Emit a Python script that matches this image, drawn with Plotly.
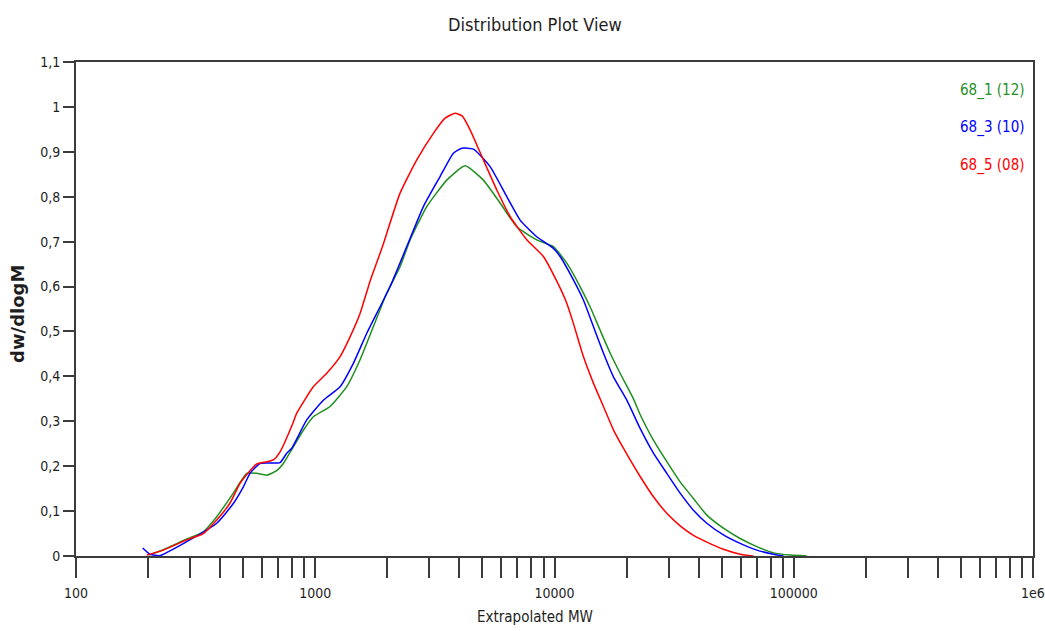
import plotly.graph_objects as go

# ---- data: dw/dlogM versus extrapolated molecular weight ----
mw_68_1 = [200.6, 231.7, 290.3, 340.6, 387.5, 454.6, 517.2, 569.4, 626.9, 690.2,
           735.7, 809.7, 891.8, 981.9, 1153, 1354, 1539, 1750, 1990, 2262,
           2491, 2925, 3547, 4229, 5043, 5924, 6957, 8433, 9895, 11255,
           12790, 14087, 15508, 17077, 18801, 21377, 22798, 24311, 25911, 29479,
           33506, 38082, 43319, 50823, 59690, 70080, 82260, 96600, 113400]
dw_68_1 = [0.002, 0.014, 0.038, 0.054, 0.0875, 0.14, 0.184, 0.184, 0.18, 0.19,
           0.206, 0.243, 0.28, 0.31, 0.333, 0.377, 0.437, 0.511, 0.585, 0.644,
           0.704, 0.778, 0.837, 0.869, 0.837, 0.786, 0.733, 0.704, 0.689, 0.652,
           0.6, 0.555, 0.503, 0.452, 0.407, 0.35, 0.315, 0.285, 0.258, 0.21,
           0.165, 0.128, 0.091, 0.062, 0.039, 0.021, 0.007, 0.002, 0.0]

mw_68_3 = [190, 204, 224.5, 290.3, 387.5, 454.6, 500.6, 533.9, 587.8, 712.6,
           760, 797.6, 921.4, 1081, 1270, 1443, 1642, 1866, 2055, 2413,
           2831, 3325, 3779, 4097, 4581, 5381, 6320, 7182, 8433, 9895,
           10554, 11995, 13207, 14542, 16012, 17631, 20060, 22798, 25911, 29479,
           33506, 38082, 43319, 50823, 59690, 70080, 82260, 90580]
dw_68_3 = [0.018, 0.004, 0.001, 0.032, 0.073, 0.117, 0.154, 0.184, 0.206, 0.208,
           0.229, 0.24, 0.303, 0.347, 0.377, 0.429, 0.496, 0.555, 0.6, 0.689,
           0.778, 0.845, 0.897, 0.908, 0.906, 0.867, 0.8, 0.748, 0.711, 0.685,
           0.667, 0.615, 0.57, 0.511, 0.452, 0.399, 0.347, 0.284, 0.229, 0.184,
           0.14, 0.102, 0.073, 0.047, 0.028, 0.013, 0.004, 0.0]

mw_68_5 = [197.5, 231.7, 290.3, 340.6, 387.5, 440.4, 484.9, 533.9, 569.4, 626.9,
           668.1, 712.6, 809.7, 836.9, 981.9, 1117, 1270, 1398, 1539, 1695,
           1866, 1926, 2262, 2657, 3117, 3488, 3841, 4109, 4439, 5043,
           5739, 6523, 7659, 8987, 10223, 11255, 11995, 13207, 14542, 16012,
           17631, 19413, 22798, 25911, 29479, 33506, 38082, 43319, 50823, 59690,
           67830]
dw_68_5 = [0.002, 0.013, 0.036, 0.05, 0.08, 0.118, 0.162, 0.19, 0.205, 0.21,
           0.214, 0.232, 0.298, 0.318, 0.377, 0.407, 0.444, 0.488, 0.54, 0.612,
           0.674, 0.695, 0.808, 0.882, 0.941, 0.975, 0.986, 0.98, 0.949, 0.882,
           0.815, 0.756, 0.704, 0.667, 0.612, 0.563, 0.518, 0.444, 0.385, 0.333,
           0.281, 0.24, 0.177, 0.132, 0.095, 0.067, 0.046, 0.031, 0.015, 0.004,
           0.0]

series_names = ["68_1 (12)", "68_3 (10)", "68_5 (08)"]
series_colors = ["#1f8f1f", "#0000ff", "#ff0000"]

# axis ticks
x_decades = [100, 1000, 10000, 100000, 1000000]
x_decade_labels = ["100", "1000", "10000", "100000", "1e6"]
y_ticks = [0, 0.1, 0.2, 0.3, 0.4, 0.5, 0.6, 0.7, 0.8, 0.9, 1.0, 1.1]
y_tick_labels = ["0", "0,1", "0,2", "0,3", "0,4", "0,5", "0,6", "0,7", "0,8", "0,9", "1", "1,1"]

NARROW = "DejaVu Sans Condensed, Liberation Sans Narrow, Arial Narrow, Liberation Sans, sans-serif"
AXIS_COLOR = "#3c3c3c"
TEXT_COLOR = "#1e1e1e"

# every 1..9 multiple of each decade carries a tick; only decades are labelled
x_tickvals, x_ticktext = [], []
for d, lab in zip(x_decades[:-1], x_decade_labels[:-1]):
    for m in range(1, 10):
        x_tickvals.append(d * m)
        x_ticktext.append(lab if m == 1 else "")
x_tickvals.append(x_decades[-1])
x_ticktext.append(x_decade_labels[-1])

fig = go.Figure()
for name, color, xs, ys in zip(series_names, series_colors,
                               [mw_68_1, mw_68_3, mw_68_5],
                               [dw_68_1, dw_68_3, dw_68_5]):
    fig.add_trace(go.Scatter(x=xs, y=ys, mode="lines", name=name,
                             line=dict(color=color, width=1.5, shape="spline", smoothing=0.5),
                             showlegend=False))

fig.update_layout(
    width=1045, height=631, autosize=False,
    margin=dict(l=76, r=12, t=62, b=75, pad=0),
    paper_bgcolor="white", plot_bgcolor="white",
    font=dict(family=NARROW, size=14, color=TEXT_COLOR),
    xaxis=dict(type="log", range=[2, 6], automargin=False,
               tickmode="array", tickvals=x_tickvals, ticktext=x_ticktext,
               ticks="outside", ticklen=20, tickwidth=1.6, tickcolor=AXIS_COLOR,
               showline=True, linecolor=AXIS_COLOR, linewidth=2, mirror=True,
               showgrid=False, zeroline=False, ticklabelstandoff=3,
               ticklabeloverflow="allow",
               tickfont=dict(family=NARROW, size=14, color=TEXT_COLOR)),
    yaxis=dict(range=[0, 1.1], automargin=False,
               tickmode="array", tickvals=y_ticks, ticktext=y_tick_labels,
               ticks="outside", ticklen=11, tickwidth=1.6, tickcolor=AXIS_COLOR,
               showline=True, linecolor=AXIS_COLOR, linewidth=2, mirror=True,
               showgrid=False, zeroline=False, ticklabeloverflow="allow",
               tickfont=dict(family=NARROW, size=14, color=TEXT_COLOR)),
)

annotations = [
    dict(text="Distribution Plot View", x=0.4796, y=1.075, xref="paper", yref="paper",
         showarrow=False, xanchor="center", yanchor="middle",
         font=dict(family=NARROW, size=18, color=TEXT_COLOR)),
    dict(text="Extrapolated MW", x=0.4796, y=-0.1235, xref="paper", yref="paper",
         showarrow=False, xanchor="center", yanchor="middle",
         font=dict(family=NARROW, size=15, color=TEXT_COLOR)),
    dict(text="<b>dw/dlogM</b>", x=-0.0606, y=0.49, xref="paper", yref="paper",
         showarrow=False, xanchor="center", yanchor="middle", textangle=-90,
         font=dict(family="DejaVu Sans, Verdana, sans-serif", size=18, color=TEXT_COLOR)),
]
for name, color, yp in zip(series_names, series_colors, [0.943, 0.868, 0.791]):
    annotations.append(dict(text=name, x=0.993, y=yp, xref="paper", yref="paper",
                            showarrow=False, xanchor="right", yanchor="middle",
                            font=dict(family=NARROW, size=15, color=color)))
fig.update_layout(annotations=annotations)

fig.write_html("out.html")
